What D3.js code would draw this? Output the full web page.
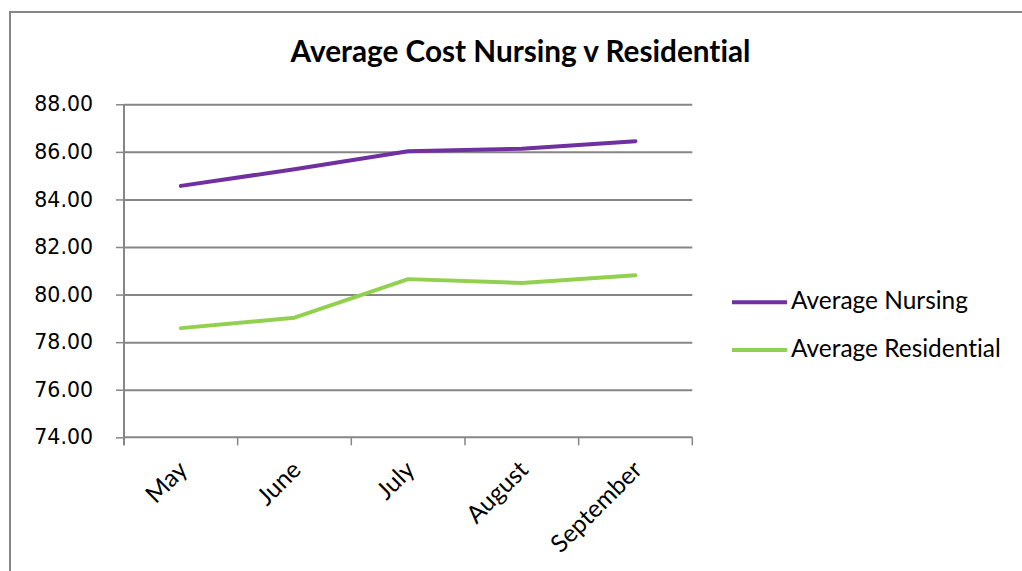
<!DOCTYPE html>
<html>
<head>
<meta charset="utf-8">
<script src="https://cdn.jsdelivr.net/npm/d3@7"></script>
<style>
  body { margin: 0; background: #fff; }
  svg { display: block; }
  text { font-variant-ligatures: none; }
</style>
</head>
<body>
<div id="chart"></div>
<script>
// data
const months = ["May", "June", "July", "August", "September"];
const nursing = [84.57, 85.27, 86.03, 86.13, 86.45];
const residential = [78.59, 79.03, 80.65, 80.49, 80.81];
const yTicks = [74, 76, 78, 80, 82, 84, 86, 88];
const seriesNames = ["Average Nursing", "Average Residential"];
const seriesColors = ["#7030a0", "#92d050"];

const W = 1022, H = 571;
const svg = d3.select("#chart").append("svg")
    .attr("width", W)
    .attr("height", H);

// outer chart border (only left/top are in view)
svg.append("rect")
    .attr("x", 10).attr("y", 12)
    .attr("width", W + 20).attr("height", H + 20)
    .attr("fill", "none")
    .attr("stroke", "#868686")
    .attr("stroke-width", 2);

// shrink/grow a text so it spans a given width
function fitWidth(sel, target) {
    const fs = parseFloat(sel.attr("font-size"));
    const w = sel.node().getComputedTextLength();
    const nfs = fs * target / w;
    sel.attr("font-size", nfs);
    return nfs;
}

const title = svg.append("text")
    .attr("x", 520.5).attr("y", 61.5)
    .attr("text-anchor", "middle")
    .attr("font-family", "Lato, 'Open Sans', sans-serif")
    .attr("font-weight", "bold")
    .attr("font-size", 26)
    .attr("fill", "#000")
    .text("Average Cost Nursing v Residential");
fitWidth(title, 460);

const plotL = 124, plotR = 692.3, plotT = 104.3, plotB = 437.3;

const x = d3.scaleBand().domain(months).range([plotL, plotR]);
const y = d3.scaleLinear().domain([74, 88]).range([plotB, plotT]);

// gridlines
svg.append("g")
    .attr("transform", `translate(${plotL},0)`)
    .call(d3.axisLeft(y).tickValues(yTicks.slice(1)).tickSize(-(plotR - plotL)).tickFormat(""))
    .call(g => g.select(".domain").remove())
    .call(g => g.selectAll("line").attr("stroke", "#868686").attr("stroke-width", 2));

// y axis
const yAxis = svg.append("g")
    .attr("transform", `translate(${plotL},0)`)
    .call(d3.axisLeft(y).tickValues(yTicks).tickSize(8).tickPadding(23).tickFormat(d3.format(".2f")));
yAxis.select(".domain").attr("stroke", "#868686").attr("stroke-width", 2).attr("d", `M0,${plotB + 8}V${plotT}`);
yAxis.selectAll("line").attr("stroke", "#868686").attr("stroke-width", 1.5);
yAxis.selectAll("text")
    .attr("font-family", "'DejaVu Sans', Verdana, sans-serif")
    .attr("font-size", 20.5)
    .attr("fill", "#000");

// x axis line with ticks at category boundaries
const bounds = months.map(m => x(m)).concat([plotR]);
svg.append("line")
    .attr("x1", plotL).attr("x2", plotR)
    .attr("y1", plotB).attr("y2", plotB)
    .attr("stroke", "#868686").attr("stroke-width", 2);
svg.append("g").selectAll("line")
    .data(bounds)
    .enter().append("line")
    .attr("x1", d => d).attr("x2", d => d)
    .attr("y1", plotB).attr("y2", plotB + 8)
    .attr("stroke", "#868686").attr("stroke-width", 1.5);

// legend first so x labels can share its size
const legend = svg.append("g");
let legendSize = 20;
seriesNames.forEach((name, i) => {
    const ly = 302.3 + i * 47.7;
    legend.append("line")
        .attr("x1", 732).attr("x2", 787)
        .attr("y1", ly).attr("y2", ly)
        .attr("stroke", seriesColors[i])
        .attr("stroke-width", 4);
    const t = legend.append("text")
        .attr("x", 791).attr("y", ly + 6.5)
        .attr("font-family", "Lato, 'Open Sans', sans-serif")
        .attr("font-size", legendSize)
        .attr("fill", "#000")
        .text(name);
    if (i === 0) legendSize = fitWidth(t, 177);
    else t.attr("font-size", legendSize);
});

// x labels, rotated
const cx = m => x(m) + x.bandwidth() / 2;
svg.append("g").selectAll("text")
    .data(months)
    .enter().append("text")
    .attr("transform", m => `translate(${cx(m) + 8},${plotB + 34}) rotate(-45)`)
    .attr("text-anchor", "end")
    .attr("font-family", "Lato, 'Open Sans', sans-serif")
    .attr("font-size", legendSize)
    .attr("fill", "#000")
    .text(m => m);

// lines
const line = d3.line()
    .x((d, i) => cx(months[i]))
    .y(d => y(d));

[nursing, residential].forEach((vals, i) => {
    svg.append("path")
        .datum(vals)
        .attr("d", line)
        .attr("fill", "none")
        .attr("stroke", seriesColors[i])
        .attr("stroke-width", 4)
        .attr("stroke-linejoin", "round")
        .attr("stroke-linecap", "round");
});
</script>
</body>
</html>
